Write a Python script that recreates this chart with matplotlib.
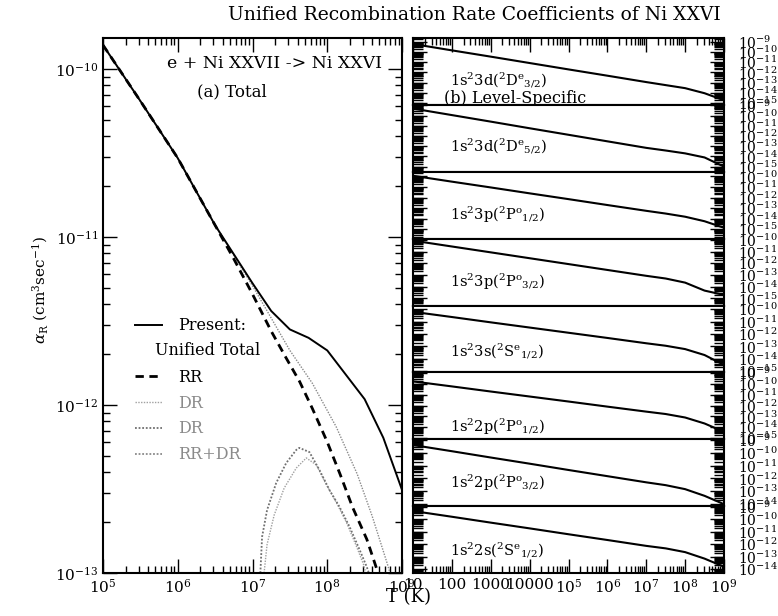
import numpy as np
import matplotlib
matplotlib.use("Agg")
import matplotlib.pyplot as plt
from matplotlib.ticker import LogLocator, FixedLocator, FixedFormatter, NullFormatter

plt.rcParams['font.family'] = ['DejaVu Serif']
plt.rcParams['mathtext.fontset'] = 'dejavuserif'
plt.rcParams['axes.unicode_minus'] = False

# ---- (a) total rate coefficients, log10 T vs log10 alpha ----
total_logT = [5.0, 5.5, 6.0, 6.5, 7.0, 7.25, 7.5, 7.75, 8.0, 8.25, 8.5, 8.75, 9.0]
total_loga = [-9.857, -10.19, -10.53, -10.93, -11.275, -11.44, -11.55, -11.60,
              -11.675, -11.82, -11.965, -12.195, -12.505]

rr_logT = [5.0, 5.5, 6.0, 6.5, 6.75, 7.0, 7.25, 7.45, 7.63, 7.8, 8.0, 8.17, 8.34, 8.53, 8.68]
rr_loga = [-9.857, -10.19, -10.53, -10.93, -11.13, -11.34, -11.56, -11.72, -11.86,
           -12.02, -12.22, -12.41, -12.61, -12.80, -13.0]

rrdr_logT = [5.0, 6.0, 6.5, 7.0, 7.15, 7.5, 7.8, 8.12, 8.4, 8.6, 8.8, 8.84]
rrdr_loga = [-9.857, -10.53, -10.93, -11.29, -11.405, -11.675, -11.87, -12.13,
             -12.41, -12.66, -12.94, -13.0]

dr1_logT = [7.155, 7.195, 7.29, 7.424, 7.586, 7.72, 7.855, 7.99, 8.125, 8.26, 8.394, 8.488, 8.515]
dr1_loga = [-13.0, -12.83, -12.655, -12.494, -12.375, -12.315, -12.357, -12.476,
            -12.583, -12.702, -12.845, -12.952, -13.0]

dr2_logT = [7.105, 7.128, 7.195, 7.317, 7.451, 7.586, 7.626, 7.761, 7.896, 8.03,
            8.165, 8.3, 8.434, 8.529, 8.556]
dr2_loga = [-13.0, -12.785, -12.625, -12.464, -12.345, -12.267, -12.255, -12.28,
            -12.387, -12.506, -12.607, -12.726, -12.863, -12.964, -13.0]

# ---- (b) level-specific rates ----
level_logT = [1, 2, 3, 4, 5, 6, 7, 7.5, 8, 8.5, 9]
rate_3d32 = [-9.19, -9.82, -10.44, -11.07, -11.70, -12.32, -12.95, -13.25, -13.55, -14.05, -14.75]
rate_3d52 = [-9.31, -9.95, -10.59, -11.24, -11.88, -12.52, -13.16, -13.42, -13.70, -14.10, -15.0]
rate_3p12 = [-9.93, -10.49, -11.04, -11.60, -12.15, -12.71, -13.26, -13.52, -13.82, -14.25, -14.87]
rate_3p32 = [-10.07, -10.57, -11.07, -11.57, -12.07, -12.57, -13.07, -13.30, -13.65, -14.33, -14.70]
rate_3s12 = [-10.21, -10.63, -11.06, -11.48, -11.90, -12.32, -12.75, -12.95, -13.22, -13.70, -14.50]
rate_2p12 = [-9.78, -10.24, -10.71, -11.17, -11.63, -12.10, -12.56, -12.78, -13.10, -13.65, -14.42]
rate_2p32 = [-9.40, -9.88, -10.37, -10.85, -11.34, -11.82, -12.30, -12.52, -12.83, -13.35, -14.00]
rate_2s12 = [-9.34, -9.80, -10.27, -10.73, -11.20, -11.66, -12.13, -12.33, -12.63, -13.15, -13.80]

level_labels = [r'1s$^2$3d($^2$D$^{\rm e}$$_{3/2}$)', r'1s$^2$3d($^2$D$^{\rm e}$$_{5/2}$)',
                r'1s$^2$3p($^2$P$^{\rm o}$$_{1/2}$)', r'1s$^2$3p($^2$P$^{\rm o}$$_{3/2}$)',
                r'1s$^2$3s($^2$S$^{\rm e}$$_{1/2}$)', r'1s$^2$2p($^2$P$^{\rm o}$$_{1/2}$)',
                r'1s$^2$2p($^2$P$^{\rm o}$$_{3/2}$)', r'1s$^2$2s($^2$S$^{\rm e}$$_{1/2}$)']
level_rates = [rate_3d32, rate_3d52, rate_3p12, rate_3p32, rate_3s12, rate_2p12, rate_2p32, rate_2s12]

# per-panel log10 y limits and label heights (axes fraction)
panel_ylim = [(-15.2, -8.6), (-15.5, -8.95), (-15.9, -9.55), (-15.6, -9.9),
              (-15.1, -9.7), (-15.1, -8.95), (-14.15, -8.95), (-14.3, -8.95)]
label_y = [0.36, 0.38, 0.37, 0.36, 0.31, 0.19, 0.36, 0.34]

W, H = 778, 616
fig = plt.figure(figsize=(W / 100, H / 100), dpi=100)

# ---------------- left panel ----------------
axL = fig.add_axes([103 / W, 43 / H, 299 / W, 535 / H])
axL.set_xscale('log')
axL.set_yscale('log')
axL.plot(10 ** np.array(rrdr_logT), 10 ** np.array(rrdr_loga), color='#8a8a8a',
         lw=1.0, ls=(0, (1, 1)))
axL.plot(10 ** np.array(total_logT), 10 ** np.array(total_loga), color='black', lw=1.4,
         label='Present:')
axL.plot([], [], color='none', label=' ')
axL.plot(10 ** np.array(rr_logT), 10 ** np.array(rr_loga), color='black', lw=2.0,
         ls=(0, (3, 2)), label='RR')
axL.plot(10 ** np.array(dr1_logT), 10 ** np.array(dr1_loga), color='#a0a0a0',
         lw=1.0, ls=(0, (1, 1)), label='DR')
axL.plot(10 ** np.array(dr2_logT), 10 ** np.array(dr2_loga), color='#707070',
         lw=1.3, ls=(0, (1, 1)), label='DR')
axL.plot([], [], color='#8a8a8a', lw=1.3, ls=(0, (1, 1)), label='RR+DR')
axL.set_xlim(1e5, 1e9)
axL.set_ylim(1e-13, 10 ** -9.815)

axL.xaxis.set_major_locator(FixedLocator([1e5, 1e6, 1e7, 1e8, 1e9]))
axL.xaxis.set_minor_locator(LogLocator(base=10, subs=np.arange(2, 10), numticks=10))
axL.yaxis.set_major_locator(FixedLocator([1e-13, 1e-12, 1e-11, 1e-10]))
axL.yaxis.set_minor_locator(LogLocator(base=10, subs=np.arange(2, 10), numticks=10))
axL.xaxis.set_minor_formatter(NullFormatter())
axL.yaxis.set_minor_formatter(NullFormatter())
axL.tick_params(which='both', direction='in', top=True, right=True, width=1.0,
                labelsize=11)
axL.tick_params(which='major', length=10)
axL.tick_params(which='minor', length=5)
for s in axL.spines.values():
    s.set_linewidth(1.5)

axL.text(0.575, 0.953, 'e + Ni XXVII -> Ni XXVI', transform=axL.transAxes,
         ha='center', va='center', fontsize=12.5)
axL.text(0.43, 0.899, '(a) Total', transform=axL.transAxes, ha='center',
         va='center', fontsize=12)

leg = axL.legend(loc='upper left', bbox_to_anchor=(0.06, 0.505), frameon=False,
                 fontsize=11.5, handlelength=1.7, handletextpad=1.0, labelspacing=0.55)
for t in leg.get_texts()[3:]:
    t.set_color('#8a8a8a')
# second line of the first legend entry, set a little to the left as in the original
axL.text(0.175, 0.415, 'Unified Total', transform=axL.transAxes, ha='left',
         va='center', fontsize=11.5)

# ---------------- right panel ----------------
x0, w = 413 / W, 311 / W
ph = 535 / H / 8
bottom0 = 43 / H
bot_ticks = [10.0 ** k for k in range(1, 10)]
bot_labels = ['10', '100', '1000', '10000', r'$10^5$', r'$10^6$', r'$10^7$', r'$10^8$', r'$10^9$']

for i in range(8):
    ax = fig.add_axes([x0, bottom0 + (7 - i) * ph, w, ph])
    ax.set_xscale('log')
    ax.set_yscale('log')
    ax.plot(10.0 ** np.array(level_logT), 10.0 ** np.array(level_rates[i]),
            color='black', lw=1.5)
    lo, hi = panel_ylim[i]
    ax.set_xlim(10, 1e9)
    ax.set_ylim(10 ** lo, 10 ** hi)
    ax.yaxis.set_major_locator(FixedLocator([10.0 ** k for k in range(-15, -8)
                                             if lo <= k <= hi]))
    ax.yaxis.set_minor_locator(LogLocator(base=10, subs=np.arange(2, 10), numticks=30))
    ax.yaxis.set_minor_formatter(NullFormatter())
    ax.xaxis.set_major_locator(FixedLocator(bot_ticks))
    ax.xaxis.set_minor_locator(LogLocator(base=10, subs=np.arange(2, 10), numticks=30))
    ax.xaxis.set_minor_formatter(NullFormatter())
    ax.yaxis.tick_right()
    ax.tick_params(axis='y', which='both', direction='in', left=True, right=True,
                   labelleft=False, labelright=True, labelsize=10, pad=10, width=1.0)
    ax.tick_params(axis='y', which='major', length=10)
    ax.tick_params(axis='y', which='minor', length=7)
    ax.tick_params(axis='x', which='both', direction='in', top=(i == 0),
                   bottom=(i == 7), labelbottom=(i == 7), labeltop=False, width=1.0)
    ax.tick_params(axis='x', which='major', length=10)
    ax.tick_params(axis='x', which='minor', length=5)
    if i == 7:
        ax.xaxis.set_major_formatter(FixedFormatter(bot_labels))
        ax.tick_params(axis='x', labelsize=11)
    for s in ax.spines.values():
        s.set_linewidth(1.5)
    ax.text(0.12, label_y[i], level_labels[i], transform=ax.transAxes,
            ha='left', va='center', fontsize=10.5)
    if i == 0:
        ax.text(0.10, 0.09, '(b) Level-Specific', transform=ax.transAxes,
                ha='left', va='center', fontsize=11.5)

fig.text(0.61, 0.975, 'Unified Recombination Rate Coefficients of Ni XXVI',
         ha='center', va='center', fontsize=13.5)
fig.text(0.525, 0.030, 'T (K)', ha='center', va='center', fontsize=13)
fig.text(0.052, 0.53, r'$\alpha_{\rm R}$ (cm$^3$sec$^{-1}$)', rotation=90,
         ha='center', va='center', fontsize=11)

fig.savefig('out.png', dpi=100)
